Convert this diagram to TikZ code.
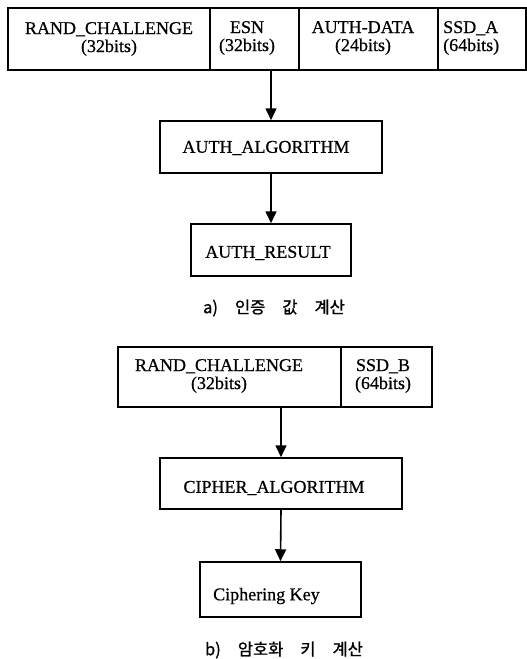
\documentclass[tikz,border=0pt]{standalone}
\usepackage{fontspec}
\setmainfont{Liberation Serif}[FakeBold=0.6]
\newfontfamily\krfont{Noto Sans CJK KR}[FakeBold=1]
\usetikzlibrary{arrows.meta}

\tikzset{
  cell/.style={draw, line width=1.5pt, inner sep=0pt, align=center,
    font=\fontsize{18}{18}\selectfont},
  label/.style={font=\fontsize{18}{18}\selectfont, inner sep=0pt},
  flow/.style={draw, line width=1.6pt, -{Triangle[length=12pt,width=11pt]}},
  caption/.style={font=\krfont\fontsize{16.5}{16.5}\selectfont, inner sep=0pt}
}

\begin{document}
\begin{tikzpicture}[x=1pt,y=-1pt]
\useasboundingbox (0,0) rectangle (527,659);

% ---- a) authentication value ----
\node[cell, minimum width=202pt, minimum height=62pt] (rc) at (109,39)
  {RAND\_CHALLENGE\\(32bits)};
\node[cell, minimum width=89pt, minimum height=62pt] (esn) at (254.5,39) {};
\node[label, align=center] (esnt) at (247,38) {ESN\\(32bits)};
\node[cell, minimum width=139pt, minimum height=62pt] (ad) at (368.5,39) {};
\node[label, align=center] (adt) at (363,38) {AUTH-DATA\\(24bits)};
\node[cell, minimum width=88pt, minimum height=62pt] (ssda) at (482,39) {};
\node[label, align=left, anchor=west] (ssdat) at (443,38) {SSD\_A\\(64bits)};

\node[cell, minimum width=222pt, minimum height=52pt] (alg) at (271,147) {};
\node[label] (algt) at (266,148) {AUTH\_ALGORITHM};
\node[cell, minimum width=160pt, minimum height=52pt] (res) at (271,250) {};
\node[label] (rest) at (268,253) {AUTH\_RESULT};

\draw[flow] (alg.north |- rc.south) -- (alg.north);
\draw[flow] (alg.south) -- (res.north);

\node[caption] (capa) at (274,308)
  {a)\hspace{17pt}인증\hspace{17pt}값\hspace{17pt}계산};

% ---- b) cipher key ----
\node[cell, minimum width=223pt, minimum height=60pt] (rc2) at (229.5,377) {};
\node[label, align=center] (rc2t) at (219,376) {RAND\_CHALLENGE\\(32bits)};
\node[cell, minimum width=91pt, minimum height=60pt] (ssdb) at (386.5,377) {};
\node[label, align=center] (ssdbt) at (383,376) {SSD\_B\\(64bits)};

\node[cell, minimum width=242pt, minimum height=51pt] (cip) at (281,483.5) {};
\node[label] (cipt) at (274,488) {CIPHER\_ALGORITHM};
\node[cell, minimum width=161pt, minimum height=55pt] (key) at (280.5,589.5) {};
\node[label, anchor=west] (keyt) at (213,596) {Ciphering Key};

\draw[flow] (cip.north |- rc2.south) -- (cip.north);
\draw[flow] (cip.south) -- (key.north);

\node[caption] (capb) at (284,650)
  {b)\hspace{17pt}암호화\hspace{17pt}키\hspace{17pt}계산};
\end{tikzpicture}
\end{document}
